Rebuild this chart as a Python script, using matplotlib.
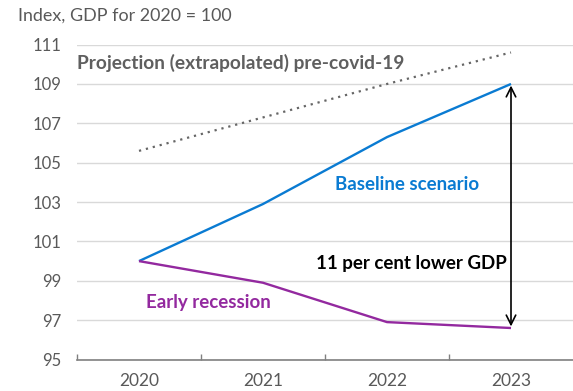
import numpy as np
import matplotlib
matplotlib.use("Agg")
import matplotlib.pyplot as plt

plt.rcParams["font.family"] = ["Lato", "DejaVu Sans"]

years = ["2020", "2021", "2022", "2023"]
baseline = [100.0, 102.9, 106.3, 109.0]
recession = [100.0, 98.9, 96.9, 96.6]
projection = [105.6, 107.3, 109.0, 110.6]
y_ticks = [95, 97, 99, 101, 103, 105, 107, 109, 111]

BLUE = "#0a7bd2"
PURPLE = "#93299f"
GREY_TXT = "#595959"

fig = plt.figure(figsize=(5.73, 3.91), dpi=100)
ax = fig.add_axes([77 / 573, 1 - 359.5 / 391, 1 - 77 / 573, (359.5 - 44.6) / 391])

x = np.arange(len(years))
ax.plot(x, projection, color="#666666", lw=1.6, ls=(0, (1, 2.2)))
ax.plot(x, baseline, color=BLUE, lw=1.7, solid_capstyle="butt")
ax.plot(x, recession, color=PURPLE, lw=1.7, solid_capstyle="butt")

# gap between the two scenarios in the last year
ax.annotate("", xy=(x[-1], recession[-1] + 0.08), xytext=(x[-1], baseline[-1] - 0.08),
            arrowprops=dict(arrowstyle="<->", color="black", lw=1.2,
                            mutation_scale=17, shrinkA=0, shrinkB=0))

ax.set_xlim(-0.5, 3.5)
ax.set_ylim(95, 111)
ax.set_yticks(y_ticks)
ax.set_xticks(x)
ax.set_xticklabels(years)
ax.set_xticks(np.arange(-0.5, 3.0, 1.0), minor=True)
ax.tick_params(axis="x", which="major", length=0, pad=10, labelsize=12.5, labelcolor=GREY_TXT)
ax.tick_params(axis="x", which="minor", direction="in", length=4, color="#808080", width=1)
ax.tick_params(axis="y", length=0, pad=11.5, labelsize=12, labelcolor=GREY_TXT)
ax.grid(axis="y", color="#d9d9d9", lw=1)
ax.set_axisbelow(True)
for s in ["top", "right", "left"]:
    ax.spines[s].set_visible(False)
ax.spines["bottom"].set_color("#808080")
ax.spines["bottom"].set_linewidth(1.2)

ax.text(-0.5, 110.05, "Projection (extrapolated) pre-covid-19", color="#5f5f5f",
        fontsize=13.8, fontweight="bold", va="center", ha="left")
ax.text(1.58, 103.9, "Baseline scenario", color=BLUE,
        fontsize=13.5, fontweight="bold", va="center", ha="left")
ax.text(1.43, 99.9, "11 per cent lower GDP", color="black",
        fontsize=13.5, fontweight="bold", va="center", ha="left")
ax.text(0.06, 97.9, "Early recession", color=PURPLE,
        fontsize=13.5, fontweight="bold", va="center", ha="left")

fig.text(18 / 573, 1 - 16 / 391, "Index, GDP for 2020 = 100", color=GREY_TXT,
         fontsize=12.9, va="center", ha="left")

fig.savefig("out.png", dpi=100, facecolor="white")
